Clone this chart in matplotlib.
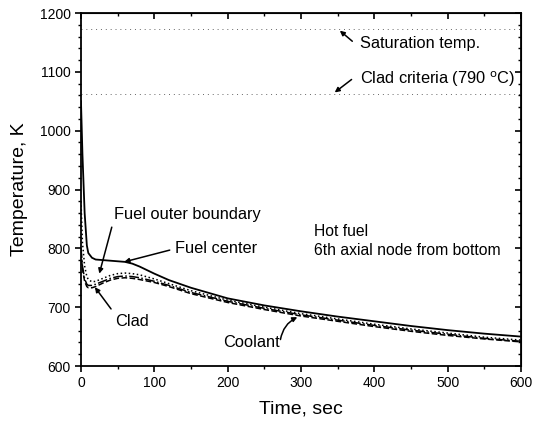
import matplotlib
matplotlib.use("Agg")
import matplotlib.pyplot as plt
from matplotlib.ticker import MultipleLocator

plt.rcParams['font.family'] = ['Liberation Sans', 'DejaVu Sans']

time = [0, 2, 5, 8, 10, 15, 20, 30, 40, 50, 60, 70, 80, 100, 120, 150, 200, 250, 300, 350, 400, 450, 500, 550, 600]
fuel_center = [1050, 960, 860, 805, 792, 784, 781, 780, 779, 778, 777, 774, 769, 757, 746, 733, 715, 703, 693, 684, 676, 668, 661, 655, 650]
fuel_outer = [880, 810, 770, 752, 747, 743, 744, 749, 754, 757, 758, 757, 755, 748, 740, 728, 712, 700, 689, 680, 671, 663, 656, 649, 644]
clad = [800, 770, 748, 739, 737, 737, 739, 744, 749, 752, 753, 752, 750, 744, 737, 725, 710, 698, 687, 678, 669, 661, 654, 647, 642]
coolant = [795, 765, 744, 735, 733, 733, 735, 741, 746, 749, 750, 749, 747, 742, 735, 723, 708, 696, 685, 676, 667, 659, 652, 646, 641]
saturation_temp = 1173
clad_criteria = 1063

fig = plt.figure(figsize=(5.42, 4.25), dpi=100)
ax = fig.add_axes([0.1494, 0.1388, 0.8118, 0.8306])

ax.plot(time, fuel_center, '-', color='black', lw=1.3)
ax.plot(time, fuel_outer, ':', color='black', lw=1.1)
ax.plot(time, clad, '-.', color='black', lw=1.1)
ax.plot(time, coolant, '--', color='black', lw=1.1)
ax.axhline(saturation_temp, ls=(0, (1, 4)), color='#666666', lw=0.7)
ax.axhline(clad_criteria, ls=(0, (1, 4)), color='#666666', lw=0.7)

ax.set_xlim(0, 600)
ax.set_ylim(600, 1200)
ax.xaxis.set_major_locator(MultipleLocator(100))
ax.xaxis.set_minor_locator(MultipleLocator(50))
ax.yaxis.set_major_locator(MultipleLocator(100))
ax.yaxis.set_minor_locator(MultipleLocator(20))
ax.tick_params(which='both', direction='out', labelsize=10)
ax.tick_params(which='major', length=4, width=1.2)
ax.tick_params(which='minor', length=2.5, width=1.0)
for s in ax.spines.values():
    s.set_linewidth(1.3)

sx = ax.secondary_xaxis('top')
sx.xaxis.set_major_locator(MultipleLocator(100))
sx.xaxis.set_minor_locator(MultipleLocator(50))
sx.tick_params(which='both', direction='in', labeltop=False)
sx.tick_params(which='major', length=4, width=1.2)
sx.tick_params(which='minor', length=2.5, width=1.0)
sy = ax.secondary_yaxis('right')
sy.yaxis.set_major_locator(MultipleLocator(100))
sy.yaxis.set_minor_locator(MultipleLocator(20))
sy.tick_params(which='both', direction='in', labelright=False)
sy.tick_params(which='major', length=4, width=1.2)
sy.tick_params(which='minor', length=2.5, width=1.0)

ax.set_xlabel('Time, sec', fontsize=14, labelpad=7)
ax.set_ylabel('Temperature, K', fontsize=14, labelpad=8)

fs = 11.8
arr = dict(arrowstyle='-|>', color='black', lw=1.1, mutation_scale=7, shrinkA=0, shrinkB=0)

def label(text, x, y, size=fs):
    ax.text(x, y, text, fontsize=size, va='center', ha='left')

def arrow(tail, tip, **kw):
    ax.annotate('', xy=tip, xytext=tail, arrowprops=dict(arr, **kw))

label('Saturation temp.', 380, 1149)
arrow((370, 1152), (353, 1170))
label('Clad criteria (790 $^{\\rm o}$C)', 380, 1088)
arrow((369, 1087), (346, 1065))
label('Fuel outer boundary', 45, 858)
arrow((42, 836), (25, 757))
label('Fuel center', 128, 799)
arrow((121, 797), (59, 777))
label('Clad', 46, 675)
arrow((41, 697), (19, 734))
label('Coolant', 194, 640)
arrow((272, 645), (295, 683), connectionstyle='arc3,rad=-0.25')
label('Hot fuel', 318, 828, fs - 0.5)
label('6th axial node from bottom', 318, 796, fs - 0.5)

fig.savefig('out.png', dpi=100)
